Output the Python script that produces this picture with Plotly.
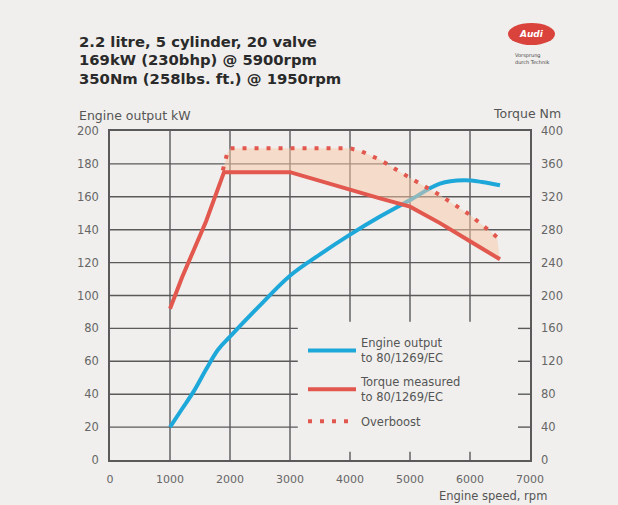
import plotly.graph_objects as go

# ---- data ----
power_rpm = [1000, 1200, 1400, 1600, 1800, 2000, 2500, 3000, 3500, 4000, 4500, 5000, 5500, 5900, 6200, 6500]
power_kw = [20, 31, 42, 55, 67, 75, 94, 112, 125, 137, 148, 158, 168, 170, 169, 167]

torque_rpm = [1000, 1200, 1400, 1600, 1800, 1900, 3000, 3500, 4000, 4500, 5000, 5500, 6000, 6500]
torque_nm = [184, 222, 256, 290, 330, 350, 350, 339, 328, 318, 308, 288, 266, 244]

boost_rpm = [1880, 1950, 2000, 3000, 4000, 4200, 4500, 5000, 5500, 6000, 6450]
boost_nm = [352, 372, 379, 379, 379, 375, 365, 343, 322, 298, 271]

x_ticks = [0, 1000, 2000, 3000, 4000, 5000, 6000, 7000]
kw_ticks = [0, 20, 40, 60, 80, 100, 120, 140, 160, 180, 200]
nm_ticks = [0, 40, 80, 120, 160, 200, 240, 280, 320, 360, 400]

title_lines = ["2.2 litre, 5 cylinder, 20 valve",
               "169kW (230bhp) @ 5900rpm",
               "350Nm (258lbs. ft.) @ 1950rpm"]

BG = "#f0efed"
GRID = "#5a5a5a"
BLUE = "#1ea8da"
RED = "#e2574e"
FONT = "DejaVu Sans"

fig = go.Figure()

# fill between torque and overboost
base_idx = [i for i, r in enumerate(torque_rpm) if r >= 1900]
fig.add_trace(go.Scatter(x=[torque_rpm[i] for i in base_idx], y=[torque_nm[i] for i in base_idx],
                         yaxis="y2", mode="lines", line=dict(width=0, color="rgba(0,0,0,0)"),
                         showlegend=False, hoverinfo="skip"))
fig.add_trace(go.Scatter(x=boost_rpm, y=boost_nm, yaxis="y2", mode="lines",
                         line=dict(width=0, color="rgba(0,0,0,0)"), fill="tonexty",
                         fillcolor="rgba(250,200,165,0.5)", showlegend=False, hoverinfo="skip"))

fig.add_trace(go.Scatter(x=power_rpm, y=power_kw, mode="lines", line=dict(color=BLUE, width=4, shape="spline"),
                         name="Engine output<br>to 80/1269/EC", legendgroup="a"))
fig.add_trace(go.Scatter(x=torque_rpm, y=torque_nm, yaxis="y2", mode="lines",
                         line=dict(color=RED, width=4), name="Torque measured<br>to 80/1269/EC",
                         legendgroup="b"))
fig.add_trace(go.Scatter(x=boost_rpm, y=boost_nm, yaxis="y2", mode="lines",
                         line=dict(color=RED, width=4, dash="4px,8px"), name="Overboost", legendgroup="c"))

# grid lines (partial, as in the original)
shapes = []
def L(x0, y0, x1, y1):
    shapes.append(dict(type="line", xref="x", yref="y", x0=x0, y0=y0, x1=x1, y1=y1,
                       line=dict(color=GRID, width=1.4), layer="below"))
for xv in [1000, 2000, 3000]:
    L(xv, 0, xv, 200)
for xv in [4000, 5000, 6000]:
    L(xv, 84, xv, 200)
    L(xv, 0, xv, 5)
for yv in [100, 120, 140, 160, 180]:
    L(0, yv, 7000, yv)
for yv in [20, 40, 60, 80]:
    L(0, yv, 3130, yv)
    L(6800, yv, 7000, yv)

# logo
shapes.append(dict(type="circle", xref="paper", yref="paper",
                   x0=(508 - 110) / 420, x1=(555 - 110) / 420,
                   y0=(460 - 45) / 329, y1=(460 - 23) / 329,
                   fillcolor="#d9433b", line=dict(width=0)))

annotations = []
for i, t in enumerate(title_lines):
    annotations.append(dict(text="<b>" + t + "</b>", xref="paper", yref="paper",
                            x=(77 - 110) / 420, y=(460 - (41 + 18.5 * i)) / 329,
                            xanchor="left", yanchor="middle", showarrow=False,
                            font=dict(family=FONT, size=14.8, color="#2a2a2a")))
annotations += [
    dict(text="Engine output kW", xref="paper", yref="paper", x=(77 - 110) / 420, y=(460 - 115) / 329,
         xanchor="left", yanchor="middle", showarrow=False, font=dict(family=FONT, size=12.5, color="#555")),
    dict(text="Torque Nm", xref="paper", yref="paper", x=(563 - 110) / 420, y=(460 - 113) / 329,
         xanchor="right", yanchor="middle", showarrow=False, font=dict(family=FONT, size=12.5, color="#555")),
    dict(text="Engine speed, rpm", xref="paper", yref="paper", x=(549 - 110) / 420, y=(460 - 496) / 329,
         xanchor="right", yanchor="middle", showarrow=False, font=dict(family=FONT, size=11.5, color="#555")),
    dict(text="<i><b>Audi</b></i>", xref="paper", yref="paper", x=(531 - 110) / 420, y=(460 - 34) / 329,
         xanchor="center", yanchor="middle", showarrow=False, font=dict(family=FONT, size=9, color="white")),
    dict(text="Vorsprung<br>durch Technik", xref="paper", yref="paper", x=(513 - 110) / 420, y=(460 - 59) / 329,
         xanchor="left", yanchor="middle", showarrow=False, align="left",
         font=dict(family=FONT, size=5, color="#444")),
]

fig.update_layout(
    width=618, height=505,
    margin=dict(l=110, r=88, t=131, b=45),
    paper_bgcolor=BG, plot_bgcolor=BG,
    font=dict(family=FONT, size=11, color="#555"),
    xaxis=dict(range=[0, 7000], tickvals=x_ticks, showgrid=False, zeroline=False,
               showline=True, linecolor=GRID, linewidth=1.6, mirror=True, ticks="",
               ticklabelstandoff=8, tickfont=dict(size=11, color="#666"), fixedrange=True),
    yaxis=dict(range=[0, 200], tickvals=kw_ticks, showgrid=False, zeroline=False,
               showline=True, linecolor=GRID, linewidth=1.6, mirror=True, ticks="",
               ticklabelstandoff=7, tickfont=dict(size=11.5, color="#666")),
    yaxis2=dict(range=[0, 400], tickvals=nm_ticks, overlaying="y", side="right", showgrid=False,
                zeroline=False, showline=False, ticks="", ticklabelstandoff=10,
                tickfont=dict(size=11.5, color="#666")),
    legend=dict(x=(303 - 110) / 420, y=(460 - 329) / 329, xanchor="left", yanchor="top",
                bgcolor="rgba(0,0,0,0)", font=dict(family=FONT, size=11.5, color="#555"),
                tracegroupgap=6, itemwidth=48, traceorder="grouped"),
    shapes=shapes, annotations=annotations,
)

fig.write_html("out.html", config={"displayModeBar": False},
               post_script="document.body.style.margin='0';document.body.style.background='%s';" % BG)
